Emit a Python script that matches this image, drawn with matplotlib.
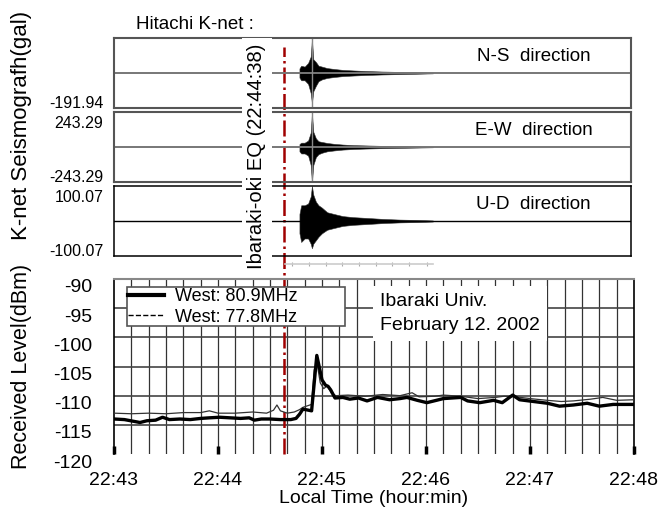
import numpy as np
import matplotlib
matplotlib.use("Agg")
import matplotlib.pyplot as plt
import matplotlib.transforms as mtransforms
from matplotlib.lines import Line2D

plt.rcParams['font.family'] = ['Liberation Sans', 'DejaVu Sans']

# time axis: seconds after 22:43:00
minute_ticks = [0, 60, 120, 180, 240, 300]
minute_labels = ["22:43", "22:44", "22:45", "22:46", "22:47", "22:48"]
eq_time = 98  # 22:44:38

# received level, West 80.9 MHz (thick line)
t_809 = [0, 6, 15, 19, 24, 28, 32, 38, 44, 50, 55, 61, 67, 73, 78, 81, 85, 90,
         96, 102, 105, 107, 109, 114, 117, 120, 122, 123.5, 125, 127.5, 132,
         136, 141, 146, 152, 159, 165, 169, 175, 180.5, 186, 190, 200, 204,
         211, 219, 224, 230, 234, 242, 250, 257, 265, 273, 280, 288, 300]
lv_809 = [-114.0, -114.1, -114.6, -114.3, -114.2, -113.7, -114.1, -114.0,
          -114.1, -113.9, -113.8, -113.7, -113.8, -113.9, -113.8, -114.2,
          -114.0, -114.0, -114.1, -114.1, -113.9, -113.2, -112.3, -112.6,
          -103.1, -107.3, -108.2, -108.4, -109.0, -110.4, -110.3, -110.6,
          -110.4, -110.9, -110.3, -110.7, -110.5, -110.3, -110.8, -111.2,
          -110.8, -110.5, -110.3, -110.9, -111.2, -110.8, -111.2, -109.9,
          -110.7, -111.0, -111.3, -111.8, -111.6, -111.3, -111.8, -111.5, -111.5]

# received level, West 77.8 MHz (thin line)
t_778 = [0, 10, 20, 30, 40, 50, 55, 60, 70, 80, 88, 92, 94, 96, 100, 104, 107,
         109, 112, 114, 115.5, 117, 119, 121, 123, 125.5, 128, 135, 145, 155,
         165, 172, 176, 185, 190, 200, 210, 220, 225, 232, 240, 250, 258, 265,
         275, 282, 290, 300]
lv_778 = [-113.0, -113.1, -113.0, -113.1, -112.9, -112.9, -112.6, -113.0,
          -113.0, -112.8, -113.0, -112.5, -111.6, -112.6, -113.0, -112.8,
          -112.4, -112.0, -111.7, -111.5, -105.6, -104.2, -107.8, -108.8,
          -108.3, -109.6, -110.0, -109.9, -110.1, -109.8, -110.0, -109.5,
          -110.2, -110.1, -109.9, -110.1, -110.5, -110.3, -110.1, -110.2,
          -110.5, -110.8, -111.0, -110.9, -110.6, -110.3, -110.8, -110.7]

# K-net seismograph envelopes (gal)
t_env = [107, 108, 110, 112, 113.5, 114.2, 115, 116.5, 118, 120, 123, 127,
         132, 138, 145, 155, 165, 175, 184]
ns_up = [25, 40, 35, 55, 90, 185, 75, 60, 40, 35, 27, 22, 17, 14, 11, 8, 6, 4, 2]
ns_lo = [-25, -40, -40, -60, -110, -165, -100, -70, -45, -35, -27, -22, -17,
         -14, -11, -8, -6, -4, -2]
ew_up = [20, 30, 30, 45, 100, 235, 105, 60, 40, 35, 28, 22, 17, 13, 11, 8, 6, 4, 2]
ew_lo = [-30, -45, -45, -60, -125, -243, -125, -70, -50, -40, -30, -24, -18,
         -14, -11, -8, -6, -4, -2]
ud_up = [20, 45, 45, 50, 70, 100, 75, 55, 45, 38, 25, 20, 14, 11, 9, 6, 4, 3, 1.5]
ud_lo = [-35, -60, -50, -50, -65, -78, -65, -55, -45, -35, -25, -20, -14, -11,
         -9, -6, -4, -3, -1.5]

panel_names = ["N-S  direction", "E-W  direction", "U-D  direction"]
panel_limits = [191.94, 243.29, 100.07]
panel_top_labels = [None, "243.29", "100.07"]
panel_bottom_labels = ["-191.94", "-243.29", "-100.07"]

W, H = 669, 514


def px_axes(x0, y0, x1, y1):
    return [x0 / W, 1 - y1 / H, (x1 - x0) / W, (y1 - y0) / H]


fig = plt.figure(figsize=(6.69, 5.14), dpi=100)

# ---- received level plot ----
ax = fig.add_axes(px_axes(114, 279, 634, 454))
ax.plot(t_778, lv_778, color="#333333", lw=0.9, zorder=3)
ax.plot(t_809, lv_809, color="black", lw=2.4, zorder=3)
ax.set_xlim(0, 300)
ax.set_ylim(-120, -90)

for t in range(10, 300, 10):
    ax.axvline(t, color="#333333", lw=0.9, zorder=1)
for y in [-95, -100, -105, -110, -115]:
    ax.axhline(y, color="#444444", lw=1.2, zorder=1)

ax.set_xticks(minute_ticks)
ax.set_xticklabels(minute_labels, fontsize=14)
ax.tick_params(axis="x", direction="in", length=6, width=2.5, pad=13)
ax.set_yticks(range(-120, -89, 5))
ax.set_yticklabels([str(v) for v in range(-120, -89, 5)], fontsize=14)
ax.tick_params(axis="y", length=0, pad=16)
shift = mtransforms.ScaledTranslation(0, -7 / 100, fig.dpi_scale_trans)
for lab in ax.get_yticklabels():
    lab.set_transform(lab.get_transform() + shift)

ax.spines["bottom"].set_visible(False)
ax.spines["top"].set_color("#888888")
ax.spines["top"].set_linewidth(1.5)
ax.spines["left"].set_linewidth(1.2)
ax.spines["right"].set_linewidth(1.2)

ax.set_xlabel("Local Time (hour:min)", fontsize=14, labelpad=1)

# earthquake line, reaching up through the seismograph panels
trans = mtransforms.blended_transform_factory(ax.transData, ax.transAxes)
ax.add_line(Line2D([eq_time, eq_time], [0, 2.326], transform=trans,
                   color="#a00000", lw=1.8, ls="-.", clip_on=False, zorder=2))

handles = [Line2D([], [], color="black", lw=3),
           Line2D([], [], color="black", lw=1, ls="--")]
leg = ax.legend(handles, ["West: 80.9MHz", "West: 77.8MHz"],
                loc="upper left", bbox_to_anchor=(0.025, 0.731, 0.419, 0.223),
                mode="expand", fontsize=13, labelspacing=0.2,
                handlelength=2.0, handletextpad=0.6, borderpad=0.05,
                borderaxespad=0, fancybox=False, framealpha=1,
                edgecolor="#555555")
leg.get_frame().set_linewidth(1.2)
leg.set_zorder(6)

ax.text(0.512, 0.803, "Ibaraki Univ.\nFebruary 12. 2002", transform=ax.transAxes,
        fontsize=14, ha="left", va="center", linespacing=1.6, zorder=6,
        bbox=dict(facecolor="white", edgecolor="none", pad=5))

# ---- seismograph panels ----
panel_px = [(114, 38, 631, 108), (114, 112, 631, 182), (114, 186, 631, 256)]
envelopes = [(ns_up, ns_lo), (ew_up, ew_lo), (ud_up, ud_lo)]
for i, (box, (up, lo)) in enumerate(zip(panel_px, envelopes)):
    sx = fig.add_axes(px_axes(*box))
    sx.set_facecolor("none")
    lim = panel_limits[i]
    sx.set_xlim(0, 298.3)
    sx.set_ylim(-lim, lim)
    sx.set_xticks([])
    sx.set_yticks([])
    edge = "#555555" if i < 2 else "black"
    for s in sx.spines.values():
        s.set_color(edge)
        s.set_linewidth(1.5 if i < 2 else 1.1)
    sx.axhline(0, color="#777777" if i < 2 else "black", lw=1.4 if i < 2 else 1.0)
    sx.fill_between(t_env, lo, up, color="black", lw=0.4, edgecolor="#333333")
    if i < 2:
        sx.axvline(t_env[up.index(max(up))], color="#888888", lw=1.0)
    sx.text(0.812, 0.73, panel_names[i], transform=sx.transAxes, fontsize=13.5,
            ha="center", va="center")
    ytr = mtransforms.blended_transform_factory(sx.transAxes, sx.transData)
    if panel_top_labels[i]:
        sx.text(-0.021, lim, panel_top_labels[i], fontsize=11.5, ha="right",
                va="center", clip_on=False,
                transform=mtransforms.offset_copy(ytr, fig=fig, y=-8, units="points"))
    sx.text(-0.021, -lim, panel_bottom_labels[i], fontsize=11.5, ha="right",
            va="center", clip_on=False,
            transform=mtransforms.offset_copy(ytr, fig=fig, y=3, units="points"))

# faint time scale under the seismographs
sc = fig.add_axes(px_axes(285, 262, 433, 263.5))
sc.set_facecolor("none")
sc.set_xlim(0, 148)
sc.set_yticks([])
sc.set_xticks([7, 24, 41, 57, 74, 91, 107, 124, 142])
sc.set_xticklabels([])
sc.tick_params(axis="x", direction="inout", length=3, color="#aaaaaa", width=0.8)
for k in ["top", "left", "right"]:
    sc.spines[k].set_visible(False)
sc.spines["bottom"].set_color("#cccccc")
sc.spines["bottom"].set_linewidth(1.2)

# figure texts
fig.text(136 / W, 1 - 24 / H, "Hitachi K-net :", fontsize=13.5, ha="left", va="center")
fig.text(257 / W, 1 - 156 / H, "Ibaraki-oki EQ (22:44:38)", fontsize=14.5,
         rotation=90, ha="center", va="center",
         bbox=dict(facecolor="white", edgecolor="none", pad=4))
fig.text(22 / W, 1 - 125 / H, "K-net Seismografh(gal)", fontsize=16,
         rotation=90, ha="center", va="center")
fig.text(22 / W, 1 - 366 / H, "Received Level(dBm)", fontsize=15.5,
         rotation=90, ha="center", va="center")

fig.savefig("out.png", dpi=100)
